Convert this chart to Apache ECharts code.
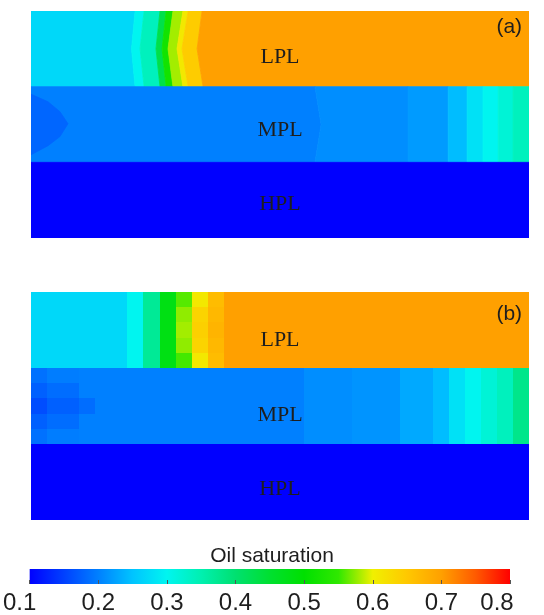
<!DOCTYPE html>
<html>
<head>
<meta charset="utf-8">
<script src="https://cdn.jsdelivr.net/npm/echarts@6/dist/echarts.min.js"></script>
<style>
  html, body { margin: 0; padding: 0; background: #fff; }
  #chart { width: 544px; height: 615px; }
</style>
</head>
<body>
<div id="chart"></div>
<script>
// ---- Oil saturation colour scale: colours equally spaced from 0.1 to 0.8 ----
const satMin = 0.1;
const satMax = 0.8;
const satColors = ['#0000ff', '#0040ff', '#0080ff', '#00c4ff', '#00f5f0', '#00f0b0', '#00e070',
                   '#00e030', '#00e000', '#30e800', '#f0f000', '#ffc800', '#ffa000', '#ff5a00', '#ff0000'];

const layerNames = ['LPL', 'MPL', 'HPL'];
const panelTags = ['(a)', '(b)'];

// ---- (a) contoured saturation, x in grid-block units (0..31), one unit per layer ----
// Each band runs up to its right-hand front; the front is sampled at top, middle and bottom of the layer.
const lplValuesA = [0.27, 0.30, 0.34, 0.43, 0.52, 0.58, 0.61, 0.645, 0.70];
const lplTopA    = [6.48, 7.04, 8.03, 8.41, 8.84, 9.46, 9.78, 10.65, 31];
const lplMidA    = [6.26, 6.79, 7.78, 8.16, 8.53, 9.09, 9.40, 10.34, 31];
const lplBotA    = [6.48, 7.04, 8.03, 8.41, 8.84, 9.46, 9.78, 10.71, 31];

const mplValuesA = [0.20, 0.21, 0.22, 0.245, 0.28, 0.30, 0.32, 0.34];
const mplTopA    = [17.68, 23.47, 25.97, 27.15, 28.14, 29.08, 30.01, 31];
const mplMidA    = [18.06, 23.47, 25.97, 27.15, 28.14, 29.08, 30.01, 31];
const mplBotA    = [17.68, 23.47, 25.97, 27.15, 28.14, 29.08, 30.01, 31];

// low-saturation lens near the injector in the middle layer
const mplLensValueA = 0.18;
const mplLensA = [[0, 1.10], [1.06, 1.20], [1.80, 1.33], [2.30, 1.49], [1.80, 1.66], [1.06, 1.78], [0, 1.90]];

const hplValuesA = [0.10];
const hplEdgeA   = [31];

// ---- (b) block values: 31 columns, 5 rows per layer ----
const lplRowsB = [
  [0.27,0.27,0.27,0.27,0.27,0.27,0.30,0.37,0.48,0.56,0.61,0.665,0.70,0.70,0.70,0.70,0.70,0.70,0.70,0.70,0.70,0.70,0.70,0.70,0.70,0.70,0.70,0.70,0.70,0.70,0.70],
  [0.27,0.27,0.27,0.27,0.27,0.27,0.30,0.37,0.48,0.575,0.635,0.67,0.70,0.70,0.70,0.70,0.70,0.70,0.70,0.70,0.70,0.70,0.70,0.70,0.70,0.70,0.70,0.70,0.70,0.70,0.70],
  [0.27,0.27,0.27,0.27,0.27,0.27,0.30,0.37,0.48,0.58,0.64,0.675,0.70,0.70,0.70,0.70,0.70,0.70,0.70,0.70,0.70,0.70,0.70,0.70,0.70,0.70,0.70,0.70,0.70,0.70,0.70],
  [0.27,0.27,0.27,0.27,0.27,0.27,0.30,0.37,0.48,0.575,0.635,0.67,0.70,0.70,0.70,0.70,0.70,0.70,0.70,0.70,0.70,0.70,0.70,0.70,0.70,0.70,0.70,0.70,0.70,0.70,0.70],
  [0.27,0.27,0.27,0.27,0.27,0.27,0.30,0.37,0.48,0.555,0.61,0.665,0.70,0.70,0.70,0.70,0.70,0.70,0.70,0.70,0.70,0.70,0.70,0.70,0.70,0.70,0.70,0.70,0.70,0.70,0.70]
];
const mplRowsB = [
  [0.188,0.198,0.198,0.20,0.20,0.20,0.20,0.20,0.20,0.20,0.20,0.20,0.20,0.20,0.20,0.20,0.20,0.21,0.21,0.21,0.215,0.215,0.215,0.23,0.23,0.245,0.28,0.30,0.32,0.34,0.38],
  [0.175,0.185,0.185,0.20,0.20,0.20,0.20,0.20,0.20,0.20,0.20,0.20,0.20,0.20,0.20,0.20,0.20,0.21,0.21,0.21,0.215,0.215,0.215,0.23,0.23,0.245,0.28,0.30,0.32,0.34,0.38],
  [0.16,0.175,0.175,0.185,0.20,0.20,0.20,0.20,0.20,0.20,0.20,0.20,0.20,0.20,0.20,0.20,0.20,0.21,0.21,0.21,0.215,0.215,0.215,0.23,0.23,0.245,0.28,0.30,0.32,0.34,0.38],
  [0.175,0.185,0.185,0.20,0.20,0.20,0.20,0.20,0.20,0.20,0.20,0.20,0.20,0.20,0.20,0.20,0.20,0.21,0.21,0.21,0.215,0.215,0.215,0.23,0.23,0.245,0.28,0.30,0.32,0.34,0.38],
  [0.188,0.198,0.198,0.20,0.20,0.20,0.20,0.20,0.20,0.20,0.20,0.20,0.20,0.20,0.20,0.20,0.20,0.21,0.21,0.21,0.215,0.215,0.215,0.23,0.23,0.245,0.28,0.30,0.32,0.34,0.38]
];
const hplRowB = [0.10,0.10,0.10,0.10,0.10,0.10,0.10,0.10,0.10,0.10,0.10,0.10,0.10,0.10,0.10,0.10,0.10,0.10,0.10,0.10,0.10,0.10,0.10,0.10,0.10,0.10,0.10,0.10,0.10,0.10,0.10];
const hplRowsB = [hplRowB, hplRowB, hplRowB, hplRowB, hplRowB];

// ---- geometry built from the arrays above ----
function bandPolygons(values, top, mid, bot, y0) {
  return values.map((v, i) => {
    const l = i === 0 ? [0, 0, 0] : [top[i - 1], mid[i - 1], bot[i - 1]];
    const r = [top[i], mid[i], bot[i]];
    return {
      value: v,
      points: [[l[0], y0], [l[1], y0 + 0.5], [l[2], y0 + 1], [r[2], y0 + 1], [r[1], y0 + 0.5], [r[0], y0]]
    };
  });
}
const polysA = [].concat(
  bandPolygons(lplValuesA, lplTopA, lplMidA, lplBotA, 0),
  bandPolygons(mplValuesA, mplTopA, mplMidA, mplBotA, 1),
  bandPolygons(hplValuesA, hplEdgeA, hplEdgeA, hplEdgeA, 2),
  [{ value: mplLensValueA, points: mplLensA }]
);

const rowsB = [].concat(lplRowsB, mplRowsB, hplRowsB);
const nCols = rowsB[0].length;
const rowsPerLayer = lplRowsB.length;
const cellsB = [];
rowsB.forEach((row, r) => {
  if (row.length !== nCols) throw new Error('row ' + r + ' has ' + row.length + ' blocks');
  row.forEach((v, c) => cellsB.push([c, r, v]));
});

// ---- option ----
const serif = '"Liberation Serif", "Times New Roman", serif';
const sans = '"Liberation Sans", Arial, sans-serif';
const labelY = [[0.615, 1.58, 2.56], [0.632, 1.618, 2.60]];
const tagY = [0.21, 0.29];

function annotationSeries(axisIdx, panel) {
  const items = layerNames.map((n, i) => [15.5, labelY[panel][i], n, 'layer'])
    .concat([[30.57, tagY[panel], panelTags[panel], 'tag']]);
  return {
    type: 'custom',
    xAxisIndex: axisIdx, yAxisIndex: axisIdx,
    silent: true, z: 10,
    data: items,
    renderItem: (params, api) => {
      const it = items[params.dataIndex];
      const p = api.coord([it[0], it[1]]);
      const isTag = it[3] === 'tag';
      return {
        type: 'text', x: p[0], y: p[1],
        style: {
          text: it[2],
          fill: '#1e1e1e',
          fontSize: isTag ? 21 : 22,
          fontFamily: isTag ? sans : serif,
          align: isTag ? 'right' : 'center',
          verticalAlign: 'middle'
        }
      };
    }
  };
}

const option = {
  animation: false,
  backgroundColor: '#fff',
  title: {
    text: 'Oil saturation', left: 'center', top: 541,
    textStyle: { fontSize: 21, fontWeight: 'normal', fontFamily: sans, color: '#1e1e1e' }
  },
  grid: [
    { left: 31, top: 11, width: 498, height: 227 },
    { left: 31, top: 292, width: 498, height: 228 },
    { left: 29, top: 569, width: 481, height: 15 }
  ],
  xAxis: [
    { type: 'value', gridIndex: 0, min: 0, max: nCols, show: false },
    { type: 'value', gridIndex: 1, min: 0, max: nCols, show: false },
    {
      type: 'value', gridIndex: 2, min: satMin, max: satMax, interval: 0.1, z: 10,
      axisLine: { show: false },
      splitLine: { show: false },
      axisTick: { show: true, inside: true, length: 4, lineStyle: { color: '#555', width: 1 } },
      axisLabel: {
        fontSize: 24, fontFamily: sans, color: '#1e1e1e', margin: 7,
        showMinLabel: true, showMaxLabel: true,
        formatter: v => {
          const s = v.toFixed(1);
          if (Math.abs(v - satMin) < 1e-9) return '{lo|' + s + '}';
          if (Math.abs(v - satMax) < 1e-9) return '{hi|' + s + '}';
          return s;
        },
        rich: {
          lo: { fontSize: 24, fontFamily: sans, color: '#1e1e1e', padding: [0, 20, 0, 0] },
          hi: { fontSize: 24, fontFamily: sans, color: '#1e1e1e', padding: [0, 26, 0, 0] }
        }
      }
    }
  ],
  yAxis: [
    { type: 'value', gridIndex: 0, min: 0, max: 3, inverse: true, show: false },
    { type: 'value', gridIndex: 1, min: 0, max: 3, inverse: true, show: false },
    { type: 'value', gridIndex: 2, min: 0, max: 1, show: false }
  ],
  visualMap: {
    type: 'continuous', show: false,
    min: satMin, max: satMax, dimension: 2, seriesIndex: [0, 1],
    inRange: { color: satColors }
  },
  series: [
    {
      type: 'custom', name: 'saturation (a)',
      xAxisIndex: 0, yAxisIndex: 0, clip: true, silent: true,
      dimensions: ['x', 'y', 'sat'],
      encode: { x: 0, y: 1 },
      data: polysA.map(p => [p.points[0][0], p.points[0][1], p.value]),
      renderItem: (params, api) => {
        const poly = polysA[params.dataIndex];
        const c = api.visual('color');
        return {
          type: 'polygon',
          shape: { points: poly.points.map(pt => api.coord(pt)) },
          style: { fill: c, stroke: c, lineWidth: 0.8 }
        };
      }
    },
    {
      type: 'custom', name: 'saturation (b)',
      xAxisIndex: 1, yAxisIndex: 1, clip: true, silent: true,
      dimensions: ['col', 'row', 'sat'],
      encode: { x: 0, y: 1 },
      data: cellsB,
      renderItem: (params, api) => {
        const col = api.value(0), row = api.value(1);
        // snap block edges to whole pixels so neighbouring blocks meet without seams
        const a = api.coord([col, row / rowsPerLayer]).map(Math.round);
        const b = api.coord([col + 1, (row + 1) / rowsPerLayer]).map(Math.round);
        return {
          type: 'rect',
          shape: { x: a[0], y: a[1], width: b[0] - a[0], height: b[1] - a[1] },
          style: { fill: api.visual('color') }
        };
      }
    },
    annotationSeries(0, 0),
    annotationSeries(1, 1),
    {
      type: 'custom', name: 'colour bar',
      xAxisIndex: 2, yAxisIndex: 2, silent: true, z: 1,
      data: [[satMin, 0]],
      renderItem: (params, api) => {
        const a = api.coord([satMin, 1]);
        const b = api.coord([satMax, 0]);
        const stops = satColors.map((c, i) => ({ offset: i / (satColors.length - 1), color: c }));
        return {
          type: 'rect',
          shape: { x: a[0], y: a[1], width: b[0] - a[0], height: b[1] - a[1] },
          style: { fill: new echarts.graphic.LinearGradient(0, 0, 1, 0, stops) }
        };
      }
    }
  ]
};

const chart = echarts.init(document.getElementById('chart'), null, { renderer: 'canvas' });
chart.setOption(option);
</script>
</body>
</html>
